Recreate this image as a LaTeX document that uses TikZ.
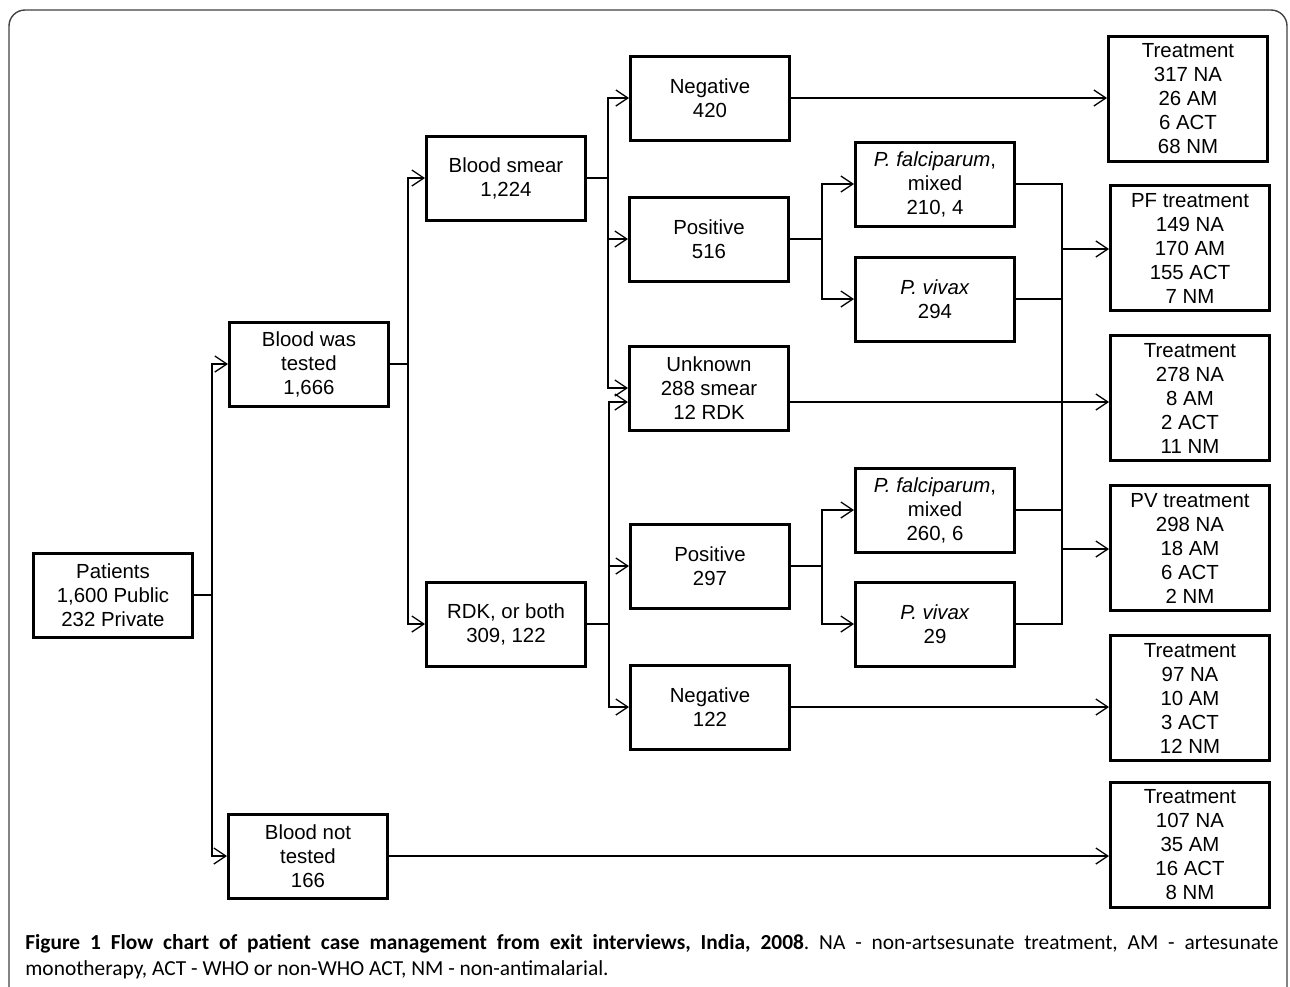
\documentclass[tikz,border=0pt]{standalone}
\usepackage{fontspec}
\setmainfont{Liberation Sans}
\newfontfamily\capfont{Carlito}
\usetikzlibrary{arrows.meta}

\begin{document}
\begin{tikzpicture}[x=0.5pt,y=-0.5pt]
\tikzstyle{every node}=[font=\fontsize{10.2}{12}\selectfont, align=center]
\tikzstyle{box}=[draw, line width=1.5pt, minimum width=79.5pt, minimum height=42pt, inner sep=1pt]
\tikzstyle{tbox}=[box, minimum height=62.5pt]
\tikzstyle{wire}=[line width=0.65pt]
\tikzstyle{link}=[wire, -{Straight Barb[length=6pt,width=8pt]}]
\useasboundingbox (0,0) rectangle (1290,986);
\draw[rounded corners=8pt, line width=0.7pt, black!75] (9,10) rectangle (1287,1030);

% first two levels
\node[box] (patients) at (113,595) {Patients\\1,600 Public\\232 Private};
\node[box] (tested) at (309,364) {Blood was\\tested\\1,666};
\node[box] (nottested) at (308,856) {Blood not\\tested\\166};
\node[box] (smear) at (506,178) {Blood smear\\1,224};
\node[box] (rdk) at (506,624) {RDK, or both\\309, 122};

% results
\node[box] (neg1) at (710,98) {Negative\\420};
\node[box] (pos1) at (709,239) {Positive\\516};
\node[box] (unknown) at (709,388) {Unknown\\288 smear\\12 RDK};
\node[box] (pos2) at (710,566) {Positive\\297};
\node[box] (neg2) at (710,707) {Negative\\122};

% species
\node[box] (pf1) at (935,184) {\textit{P. falciparum},\\mixed\\210, 4};
\node[box] (pv1) at (935,299) {\textit{P. vivax}\\294};
\node[box] (pf2) at (935,510) {\textit{P. falciparum},\\mixed\\260, 6};
\node[box] (pv2) at (935,624) {\textit{P. vivax}\\29};

% treatments
\node[tbox] (treat1) at (1188,99) {Treatment\\317 NA\\26 AM\\6 ACT\\68 NM};
\node[tbox] (pftreat) at (1190,248) {PF treatment\\149 NA\\170 AM\\155 ACT\\7 NM};
\node[tbox] (treat2) at (1190,398) {Treatment\\278 NA\\8 AM\\2 ACT\\11 NM};
\node[tbox] (pvtreat) at (1190,548) {PV treatment\\298 NA\\18 AM\\6 ACT\\2 NM};
\node[tbox] (treat3) at (1190,698) {Treatment\\97 NA\\10 AM\\3 ACT\\12 NM};
\node[tbox] (treat4) at (1190,845) {Treatment\\107 NA\\35 AM\\16 ACT\\8 NM};

% junctions
\coordinate (jpat) at (212,595);
\coordinate (jtest) at (408,364);
\coordinate (jsmear) at (608,178);
\coordinate (jrdk) at (609,624);
\coordinate (jpos1) at (822,239);
\coordinate (jpos2) at (822,566);
\coordinate (jpf) at (1062,249);
\coordinate (jpv) at (1062,549);
\coordinate (uin) at ([yshift=-7pt]unknown.west);
\coordinate (uout) at ([yshift=-7pt]unknown.east);

\draw[wire] (patients.east) -- (jpat);
\draw[link] (jpat) |- (tested.west);
\draw[link] (jpat) |- (nottested.west);

\draw[wire] (tested.east) -- (jtest);
\draw[link] (jtest) |- (smear.west);
\draw[link] (jtest) |- (rdk.west);

\draw[wire] (smear.east) -- (jsmear);
\draw[link] (jsmear) |- (neg1.west);
\draw[link] (jsmear) |- (pos1.west);
\draw[link] (jsmear) |- (unknown.west);

\draw[wire] (rdk.east) -- (jrdk);
\draw[link] (jrdk) |- (uin);
\draw[link] (jrdk) |- (pos2.west);
\draw[link] (jrdk) |- (neg2.west);

\draw[wire] (pos1.east) -- (jpos1);
\draw[link] (jpos1) |- (pf1.west);
\draw[link] (jpos1) |- (pv1.west);
\draw[wire] (pos2.east) -- (jpos2);
\draw[link] (jpos2) |- (pf2.west);
\draw[link] (jpos2) |- (pv2.west);

\draw[wire] (pf1.east) -| (jpf);
\draw[wire] (pf2.east) -| (jpf);
\draw[link] (jpf) -- (pftreat.west |- jpf);
\draw[wire] (pv1.east) -| (jpv);
\draw[wire] (pv2.east) -| (jpv);
\draw[link] (jpv) -- (pvtreat.west |- jpv);

\draw[link] (neg1.east) -- (treat1.west |- neg1.east);
\draw[link] (uout) -- (treat2.west |- uout);
\draw[link] (neg2.east) -- (treat3.west |- neg2.east);
\draw[link] (nottested.east) -- (treat4.west |- nottested.east);

% caption
\node[anchor=north west, inner sep=0pt, text width=626.5pt, align=justify,
  font=\capfont\fontsize{10.7}{13}\selectfont\frenchspacing] (caption) at (25,934)
  {\textbf{Figure 1 Flow chart of patient case management from exit interviews, India, 2008}. NA - non-artsesunate treatment, AM - artesunate\linebreak monotherapy, ACT - WHO or non-WHO ACT, NM - non-antimalarial.};
\end{tikzpicture}
\end{document}
